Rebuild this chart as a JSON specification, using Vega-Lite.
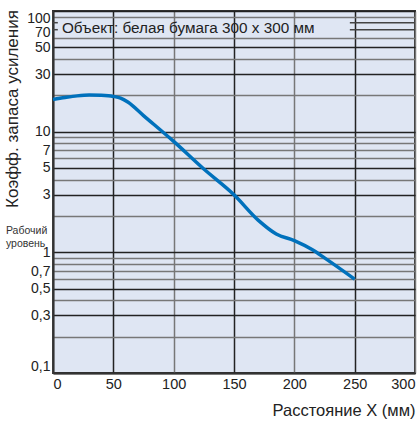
{
  "$schema": "https://vega.github.io/schema/vega-lite/v6.json",
  "width": 362,
  "height": 362,
  "autosize": {"type": "none"},
  "padding": {"left": 53, "top": 11, "right": 3, "bottom": 50},
  "config": {
    "font": "Liberation Sans",
    "view": {"fill": "#dfe6f3", "stroke": "#333", "strokeWidth": 2},
    "axis": {"labelFont": "Liberation Sans", "titleFont": "Liberation Sans", "labelColor": "#222", "titleColor": "#222", "titleFontWeight": "normal"}
  },
  "layer": [
    {
      "data": {"values": [
        {"x": 0, "x2": 4, "y": 70}, {"x": 246, "x2": 300, "y": 70},
        {"x": 0, "x2": 4, "y": 80}, {"x": 246, "x2": 300, "y": 80}
      ]},
      "mark": {"type": "rule", "color": "#444", "strokeWidth": 1.5},
      "encoding": {
        "x": {"field": "x", "type": "quantitative", "scale": {"domain": [0, 300], "nice": false},
          "axis": {"values": [0, 50, 100, 150, 200, 250, 300], "grid": true,
            "gridColor": {"condition": {"test": "datum.value == 50 || datum.value == 150 || datum.value == 250", "value": "#222"}, "value": "#777"},
            "gridWidth": 1.5, "tickSize": 0, "labelFontSize": 14.5, "labelFlush": true, "labelPadding": 4,
            "domainColor": "#333", "domainWidth": 2,
            "title": "Расстояние X (мм)", "titleFontSize": 16.5, "titleX": 362, "titleY": 37, "titleAlign": "right", "titleBaseline": "middle"}},
        "x2": {"field": "x2"},
        "y": {"field": "y", "type": "quantitative", "scale": {"type": "log", "domain": [0.1, 100], "nice": false},
          "axis": {"values": [0.1, 0.2, 0.3, 0.4, 0.5, 0.6, 0.7, 0.8, 0.9, 1, 2, 3, 4, 5, 6, 7, 8, 9, 10, 20, 30, 40, 50, 60, 70, 80, 90, 100],
            "grid": true, "format": "~g",
            "labelExpr": "indexof([0.1, 0.3, 0.5, 0.7, 1, 3, 5, 7, 10, 30, 50, 70, 100], datum.value) >= 0 ? replace(datum.label, '.', ',') : ''",
            "gridColor": {"condition": {"test": "indexof([0.1, 0.3, 0.5, 1, 3, 5, 10, 30, 50, 100], datum.value) >= 0", "value": "#222"}, "value": "#777"},
            "gridOpacity": {"condition": {"test": "datum.value == 70 || datum.value == 80", "value": 0}, "value": 1},
            "labelOffset": {"condition": {"test": "datum.value == 70", "value": 3}, "value": 0},
            "gridWidth": 1.5, "tickSize": 0, "labelFontSize": 14, "labelFlush": true, "labelOverlap": false, "labelPadding": 3,
            "domainColor": "#333", "domainWidth": 2,
            "title": "Коэфф. запаса усиления", "titleFontSize": 17, "titleX": -41, "titleY": 97.5, "titleAngle": -90, "titleAlign": "center", "titleBaseline": "middle"}}
      }
    },
    {
      "data": {"values": [
        {"x": 0, "y": 18.5}, {"x": 10, "y": 19.2}, {"x": 20, "y": 19.8}, {"x": 30, "y": 20.1},
        {"x": 40, "y": 20.0}, {"x": 50, "y": 19.6}, {"x": 56, "y": 19.0}, {"x": 62, "y": 17.6},
        {"x": 75, "y": 13.6}, {"x": 100, "y": 8.3}, {"x": 125, "y": 4.9}, {"x": 150, "y": 3.0},
        {"x": 170, "y": 1.85}, {"x": 185, "y": 1.42}, {"x": 200, "y": 1.25}, {"x": 215, "y": 1.05},
        {"x": 225, "y": 0.9}, {"x": 250, "y": 0.6}
      ]},
      "mark": {"type": "line", "color": "#0071bc", "strokeWidth": 3.5, "interpolate": "monotone"},
      "encoding": {
        "x": {"field": "x", "type": "quantitative"},
        "y": {"field": "y", "type": "quantitative"}
      }
    },
    {
      "data": {"values": [{"x": 7.4, "y": 72, "t": "Объект: белая бумага 300 x 300 мм"}]},
      "mark": {"type": "text", "align": "left", "baseline": "middle", "fontSize": 15.3, "color": "#222"},
      "encoding": {
        "x": {"field": "x", "type": "quantitative"},
        "y": {"field": "y", "type": "quantitative"},
        "text": {"field": "t"}
      }
    },
    {
      "data": {"values": [{"x": -39, "y": 1.5, "t": "Рабочий\nуровень"}]},
      "mark": {"type": "text", "align": "left", "baseline": "middle", "fontSize": 10.5, "lineHeight": 12.5, "lineBreak": "\n", "color": "#333"},
      "encoding": {
        "x": {"field": "x", "type": "quantitative"},
        "y": {"field": "y", "type": "quantitative"},
        "text": {"field": "t"}
      }
    }
  ]
}
